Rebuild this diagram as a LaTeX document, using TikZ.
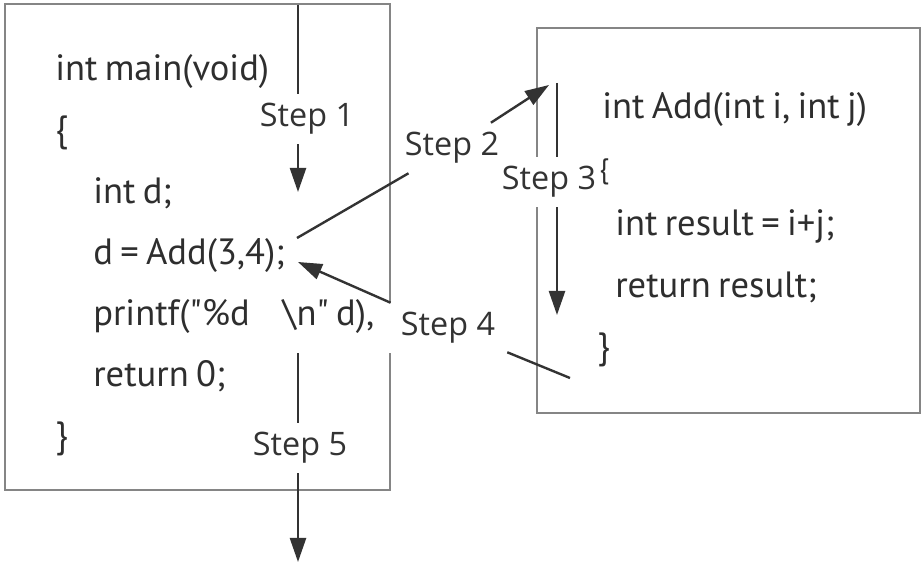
\documentclass[tikz,border=0pt]{standalone}
\usepackage{fontspec}
\setmainfont{PT Sans}[Ligatures=TeXOff, WordSpace=0.75]
\newfontfamily\lblfont{Open Sans}
\usetikzlibrary{arrows.meta}

\definecolor{codegray}{HTML}{2E2E2E}
\definecolor{boxgray}{HTML}{858585}
\definecolor{arrgray}{HTML}{333333}

\tikzset{
	code/.style={anchor=base west, inner sep=0pt, text=codegray, font=\fontsize{26}{30}\selectfont},
	steplbl/.style={fill=white, inner sep=0pt, inner xsep=0.3cm, minimum height=1.25cm, text=arrgray, font=\lblfont\fontsize{23}{27}\selectfont},
	codebox/.style={draw=boxgray, line width=1.5pt},
	flow/.style={draw=arrgray, line width=1.7pt},
	flowarr/.style={flow, -{Triangle[length=0.6cm,width=0.4cm]}},
}

\begin{document}
\begin{tikzpicture}[x=0.025cm, y=-0.025cm]
		\useasboundingbox (0,0) rectangle (922,565);
		\draw[codebox] (5,4) rectangle (390,490); %main
		\draw[codebox] (537,28) rectangle (920,413); %Add
		% step labels
		\node[steplbl] (s1) at (307,119) {Step 1};
		\node[steplbl] (s2) at (452,148) {Step 2};
		\node[steplbl] (s3) at (549,182) {Step 3};
		\node[steplbl] (s4) at (448,328) {Step 4};
		\node[steplbl] (s5) at (300,448) {Step 5};
		% ends of the arrows
		\coordinate (s1top) at (298,5);
		\coordinate (s1tip) at (298,192);
		\coordinate (s2from) at (297,238);
		\coordinate (s2tip) at (549,85);
		\coordinate (s3top) at (557,83);
		\coordinate (s3tip) at (557,315);
		\coordinate (s4from) at (570,378);
		\coordinate (s4tip) at (298,262);
		\coordinate (s5top) at (298,353);
		\coordinate (s5tip) at (298,562);
		\draw[flow] (s1top) -- (s1top |- s1.north);
		\draw[flowarr] (s1top |- s1.south) -- (s1tip);
		\draw[flow] (s2from) -- (s2);
		\draw[flowarr] (s2) -- (s2tip);
		\draw[flow] (s3top) -- (s3top |- s3.north);
		\draw[flowarr] (s3top |- s3.south) -- (s3tip);
		\draw[flow] (s4from) -- (s4);
		\draw[flowarr] (s4) -- (s4tip);
		\draw[flow] (s5top) -- (s5top |- s5.north);
		\draw[flowarr] (s5top |- s5.south) -- (s5tip);
		% main
		\node[code] (m1) at (55,81) {int main(void)};
		\node[code] (m2) at (55,142) {\{};
		\node[code] (m3) at (93,203) {int d;};
		\node[code] (m4) at (93,264) {d = Add(3,4);};
		\node[code] (m5) at (93,325) {printf("\%d\hspace{0.9em}\textbackslash n" d),};
		\node[code] (m6) at (93,386) {return 0;};
		\node[code] (m7) at (55,447) {\}};
		% Add
		\node[code] (a1) at (602,119) {int Add(int i, int j)};
		\node[code,font=\fontsize{20}{24}\selectfont] (a2) at (599,178) {\{};
		\node[code] (a3) at (615,235) {int result = i+j;};
		\node[code] (a4) at (615,297) {return result;};
		\node[code] (a5) at (597,358) {\}};
	\end{tikzpicture}
\end{document}
